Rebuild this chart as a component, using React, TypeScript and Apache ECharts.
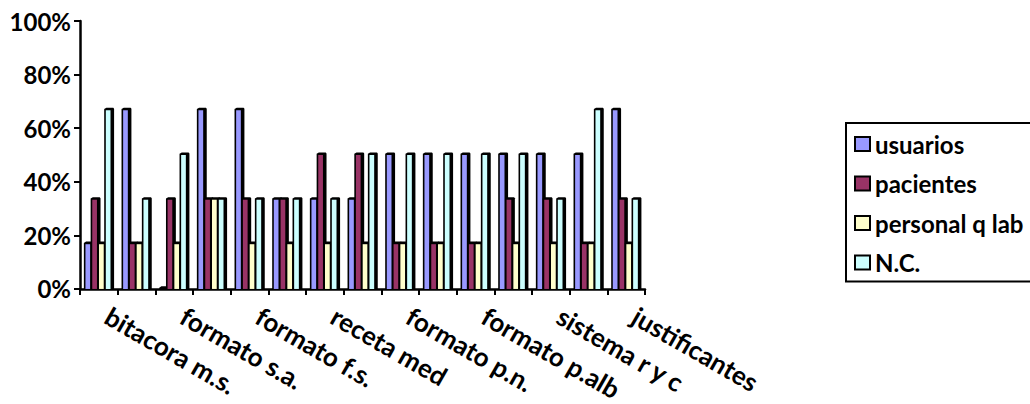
import React, { useEffect, useRef } from "react";
import * as echarts from "echarts";

// Fifteen survey items; only every other one carries a visible tick label.
const categories = [
  "bitacora m.s.", "", "formato s.a.", "", "formato f.s.", "", "receta med", "",
  "formato p.n.", "", "formato p.alb", "", "sistema r y c", "", "justificantes",
];

const seriesNames = ["usuarios", "pacientes", "personal q lab", "N.C."];
const seriesColors = ["#9999FF", "#993366", "#FFFFCC", "#CCFFFF"];

const usuarios = [0.167, 0.667, 0, 0.667, 0.667, 0.333, 0.333, 0.333, 0.5, 0.5, 0.5, 0.5, 0.5, 0.5, 0.667];
const pacientes = [0.333, 0.167, 0.333, 0.333, 0.333, 0.333, 0.5, 0.5, 0.167, 0.167, 0.167, 0.333, 0.333, 0.167, 0.333];
const personalQLab = [0.167, 0.167, 0.167, 0.333, 0.167, 0.167, 0.167, 0.167, 0.167, 0.167, 0.167, 0.167, 0.167, 0.167, 0.167];
const nc = [0.667, 0.333, 0.5, 0.333, 0.333, 0.333, 0.333, 0.5, 0.5, 0.5, 0.5, 0.5, 0.333, 0.667, 0.333];

const seriesValues = [usuarios, pacientes, personalQLab, nc];

const FONT = "Lato";

// Draws one column with a black outline and a dark extruded side, Excel-3D style.
function makeRenderer(slot: number, color: string) {
  return (params: any, api: any) => {
    const idx = api.value(0);
    const val = api.value(1);
    const base = api.coord([idx, 0]);
    const top = api.coord([idx, val]);
    const w = api.size([1, 0])[0];
    const catLeft = base[0] - w / 2;
    const fL = catLeft + w * 0.145 + slot * w * 0.18;
    const fw = w * 0.125;
    const fR = fL + fw;
    const d = w * 0.095;
    const y0 = base[1];
    const yT = top[1];
    return {
      type: "group",
      children: [
        {
          type: "polygon",
          shape: {
            points: [
              [fL - 1.6, y0],
              [fL - 1.6, yT - 1.2],
              [fL + 0.6, yT - 2.6],
              [fR + d - 0.8, yT - 2.6],
              [fR + d, yT - 1.6],
              [fR + d, y0],
            ],
          },
          style: { fill: "#000" },
        },
        {
          type: "rect",
          shape: { x: fL, y: yT, width: fw, height: Math.max(0, y0 - yT) },
          style: { fill: color },
        },
      ],
    };
  };
}

export default function App() {
  const ref = useRef<HTMLDivElement>(null);

  useEffect(() => {
    if (!ref.current) return;
    const chart = echarts.init(ref.current, undefined, { renderer: "svg" });
    chart.setOption({
      animation: false,
      backgroundColor: "#fff",
      textStyle: { fontFamily: FONT },
      grid: { left: 80, right: 385, top: 21, bottom: 115, containLabel: false },
      legend: {
        orient: "vertical",
        left: 846,
        top: 123,
        icon: "rect",
        itemWidth: 15,
        itemHeight: 14,
        itemGap: 15.5,
        padding: [9, 80, 7, 8],
        borderColor: "#000",
        borderWidth: 2,
        textStyle: { fontFamily: FONT, fontWeight: "bold", fontSize: 24, color: "#000" },
        data: seriesNames.map((n, i) => ({
          name: n,
          itemStyle: { color: seriesColors[i], borderColor: "#000", borderWidth: 2 },
        })),
      },
      xAxis: {
        type: "category",
        data: categories,
        boundaryGap: true,
        axisLine: { lineStyle: { color: "#000", width: 2.5 } },
        axisTick: { show: true, interval: 0, length: 6, lineStyle: { color: "#000", width: 2 } },
        axisLabel: {
          interval: 1,
          rotate: -30,
          margin: 20,
          padding: [0, 0, 0, 10],
          color: "#000",
          fontFamily: FONT,
          fontWeight: "bold",
          fontSize: 26,
        },
      },
      yAxis: {
        type: "value",
        min: 0,
        max: 1,
        interval: 0.2,
        splitLine: { show: false },
        axisLine: { show: true, lineStyle: { color: "#000", width: 2.5 } },
        axisTick: { show: true, length: 6, lineStyle: { color: "#000", width: 2 } },
        axisLabel: {
          margin: 9,
          color: "#000",
          fontFamily: FONT,
          fontWeight: "bold",
          fontSize: 24,
          formatter: (v: number) => `${Math.round(v * 100)}%`,
        },
      },
      series: seriesNames.map((name, i) => ({
        type: "custom",
        name,
        clip: false,
        itemStyle: { color: seriesColors[i] },
        renderItem: makeRenderer(i, seriesColors[i]),
        encode: { x: 0, y: 1 },
        data: seriesValues[i].map((v, k) => [k, v]),
      })),
    });
    return () => chart.dispose();
  }, []);

  return (
    <div
      ref={ref}
      style={{ position: "absolute", left: 0, top: 0, width: 1030, height: 404 }}
    />
  );
}
